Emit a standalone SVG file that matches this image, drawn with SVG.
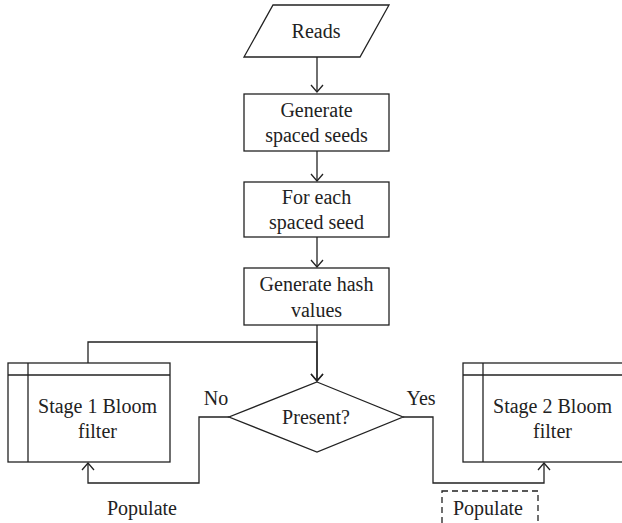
<svg xmlns="http://www.w3.org/2000/svg" width="622" height="523" viewBox="0 0 622 523">
<defs>
<marker id="arr" markerWidth="16" markerHeight="16" refX="0" refY="0" viewBox="-8 -8 16 16" orient="auto" markerUnits="userSpaceOnUse">
<path d="M-7,-6 L0,0 L-7,6" fill="none" stroke="#222" stroke-width="1.3"/>
</marker>
<style>
.s{fill:#fff;stroke:#222;stroke-width:1.3}
.l{fill:none;stroke:#222;stroke-width:1.3}
text{font-family:"Liberation Serif","Times New Roman",serif;font-size:20px;fill:#222;text-anchor:middle}
</style>
</defs>
<rect width="622" height="523" fill="#fff"/>
<g id="connectors">
<line class="l" x1="317" y1="57" x2="317" y2="92" marker-end="url(#arr)"/>
<line class="l" x1="317" y1="151" x2="317" y2="181" marker-end="url(#arr)"/>
<line class="l" x1="317" y1="237" x2="317" y2="267" marker-end="url(#arr)"/>
<line class="l" x1="317" y1="325" x2="317" y2="381" marker-end="url(#arr)"/>
<polyline class="l" points="88,363 88,342 317,342 317,381" marker-end="url(#arr)"/>
<polyline class="l" points="229,417 199,417 199,483 88,483 88,463" marker-end="url(#arr)"/>
<polyline class="l" points="403,417 433,417 433,483 544,483 544,463" marker-end="url(#arr)"/>
<text x="216" y="405">No</text>
<text x="421" y="405">Yes</text>
<text x="142" y="515">Populate</text>
</g>
<g id="reads">
<polygon class="s" points="273,5 389,5 360,57 244,57"/>
<text x="316" y="38">Reads</text>
</g>
<g id="gen-seeds">
<rect class="s" x="244" y="94" width="145" height="57"/>
<text x="316.5" y="117">Generate</text>
<text x="316.5" y="142">spaced seeds</text>
</g>
<g id="for-each">
<rect class="s" x="244" y="182" width="145" height="55"/>
<text x="316.5" y="204">For each</text>
<text x="316.5" y="229">spaced seed</text>
</g>
<g id="gen-hash">
<rect class="s" x="244" y="268" width="145" height="57"/>
<text x="316.5" y="291">Generate hash</text>
<text x="316.5" y="317">values</text>
</g>
<g id="present">
<polygon class="s" points="317,382 403,417 317,452 229,417"/>
<text x="316" y="424">Present?</text>
</g>
<g id="stage1">
<rect class="s" x="8" y="363" width="162" height="99"/>
<line class="l" x1="8" y1="375" x2="170" y2="375"/>
<line class="l" x1="28" y1="363" x2="28" y2="462"/>
<text x="97.5" y="413">Stage 1 Bloom</text>
<text x="97.5" y="438">filter</text>
</g>
<g id="stage2">
<rect class="s" x="463" y="363" width="170" height="99"/>
<line class="l" x1="463" y1="375" x2="633" y2="375"/>
<line class="l" x1="483" y1="363" x2="483" y2="462"/>
<text x="552.5" y="413">Stage 2 Bloom</text>
<text x="552.5" y="438">filter</text>
</g>
<g id="populate2">
<rect x="442" y="491" width="96" height="45" fill="none" stroke="#222" stroke-width="1.3" stroke-dasharray="6,4"/>
<text x="488" y="515">Populate</text>
</g>
</svg>
